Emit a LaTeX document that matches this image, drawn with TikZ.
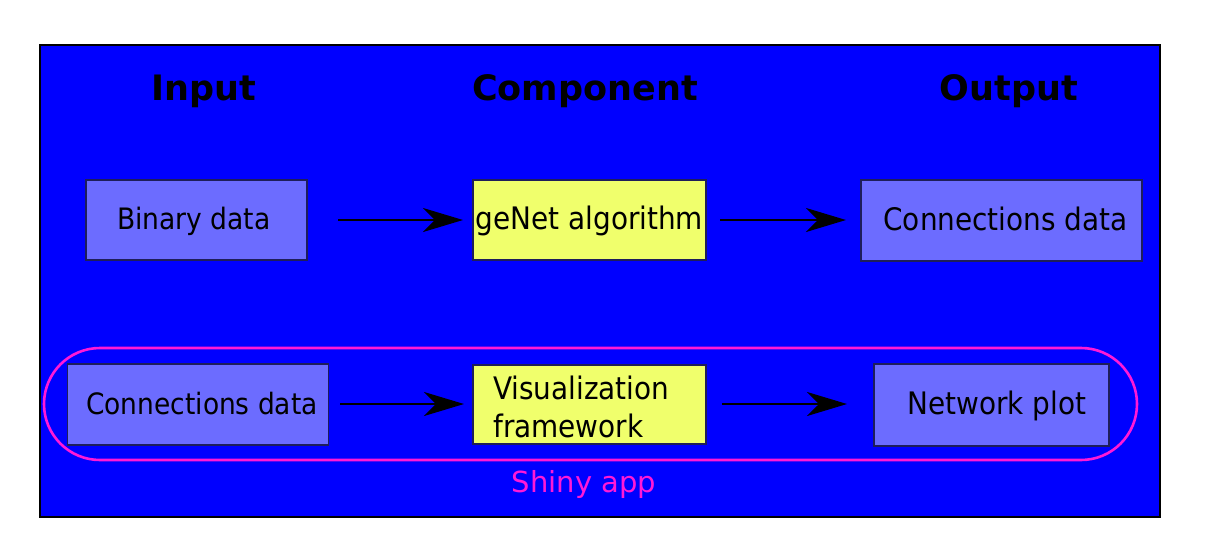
\documentclass[tikz,border=0pt]{standalone}
\usepackage{fontspec}
\setmainfont{DejaVu Sans}
\newfontfamily\condfont{DejaVu Sans Condensed}
\usetikzlibrary{arrows.meta}
\definecolor{bgblue}{RGB}{0,0,255}
\definecolor{boxblue}{RGB}{108,108,255}
\definecolor{boxyellow}{RGB}{240,255,108}
\definecolor{boxedge}{RGB}{30,30,90}
\definecolor{shiny}{RGB}{255,25,215}
\tikzset{
  px/.style={x=1pt,y=-1pt},
  title/.style={font=\fontsize{35}{40}\selectfont\bfseries, text=black},
  boxtext/.style={font=\condfont\fontsize{31}{38}\selectfont},
  bluebox/.style={draw=boxedge, line width=1.2pt, fill=boxblue, inner sep=0pt},
  yellowbox/.style={draw=boxedge, line width=1.2pt, fill=boxyellow, inner sep=0pt, boxtext},
  flow/.style={line width=2.6pt, -{Stealth[length=40pt,width=24pt,inset=12pt]}},
}
\begin{document}
\begin{tikzpicture}[px]
\useasboundingbox (0,0) rectangle (1216,555);
\fill[white] (0,0) rectangle (1216,555);
\draw[line width=2.5pt, fill=bgblue] (40,45) rectangle (1160,517);
% titles
\node[title] (tin) at (204,91) {Input};
\node[title] (tcomp) at (585,91) {Component};
\node[title] (tout) at (1009,91) {Output};
% shiny app pill
\draw[shiny, line width=2.6pt, rounded corners=56pt] (44,348) rectangle (1137,460);
\node[text=shiny, font=\fontsize{29}{33}\selectfont] (shinylbl) at (584,484) {Shiny app};
% top row
\node[bluebox, minimum width=221pt, minimum height=80pt] (bin) at (196.5,220) {};
\node[font=\condfont\fontsize{29.5}{37}\selectfont, anchor=west, inner sep=0pt] (bintxt) at (117,221) {Binary data};
\node[yellowbox, minimum width=233pt, minimum height=80pt] (genet) at (589.5,220) {};
\node[boxtext, inner sep=0pt] (genettxt) at (589.5,221) {geNet algorithm};
\node[bluebox, minimum width=281pt, minimum height=81pt] (conn1) at (1001.5,220.5) {};
\node[boxtext, inner sep=0pt] (conn1txt) at (1005.5,219) {Connections data};
% bottom row
\node[bluebox, minimum width=261pt, minimum height=81pt] (conn2) at (198,404.5) {};
\node[font=\condfont\fontsize{29.4}{37}\selectfont, inner sep=0pt] (conn2txt) at (202,404) {Connections data};
\node[yellowbox, minimum width=233pt, minimum height=79pt] (vis) at (589.5,404.5) {};
\node[font=\condfont\fontsize{31}{37.5}\selectfont, anchor=west, align=left, inner sep=0pt] (vistxt) at (493,407) {Visualization\\framework};
\node[bluebox, minimum width=235pt, minimum height=82pt] (net) at (991.5,405) {};
\node[boxtext, inner sep=0pt] (nettxt) at (997,406) {Network plot};
% arrows
\coordinate (a1s) at (338,220); \coordinate (a1e) at (463,220);
\coordinate (a2s) at (720,220); \coordinate (a2e) at (846,220);
\coordinate (a3s) at (340,404); \coordinate (a3e) at (464,404);
\coordinate (a4s) at (722,404); \coordinate (a4e) at (847,404);
\draw[flow] (a1s) -- (a1e);
\draw[flow] (a2s) -- (a2e);
\draw[flow] (a3s) -- (a3e);
\draw[flow] (a4s) -- (a4e);
\end{tikzpicture}
\end{document}
